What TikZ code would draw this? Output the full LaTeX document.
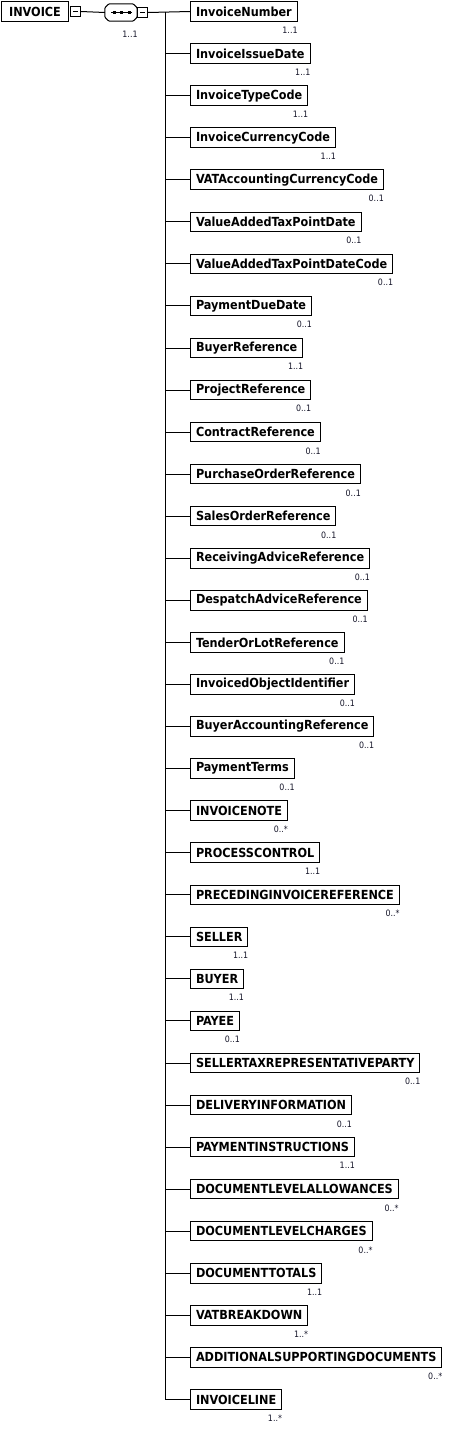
\documentclass[tikz,border=0pt]{standalone}
\usepackage{fontspec}
\setmainfont{DejaVu Sans Condensed}[BoldFont={DejaVu Sans Condensed Bold}]
\usepackage{tikz}
\usetikzlibrary{positioning,calc}
\definecolor{LineBlack}{RGB}{0,0,0}
\definecolor{CardInk}{RGB}{20,20,40}
\tikzset{
  elem/.style={draw=LineBlack,line width=1pt,fill=white,anchor=west,inner xsep=5.5pt,inner ysep=0pt,minimum height=19.5pt,font=\fontsize{12.5}{14}\selectfont\bfseries},
  card/.style={anchor=north east,inner sep=0pt,yshift=-5pt,text=CardInk,font=\fontsize{8.8}{9}\selectfont},
  minus/.style={draw=LineBlack,line width=1pt,fill=white,minimum size=10pt,inner sep=0pt},
  conn/.style={draw=LineBlack,line width=1pt}
}

\begin{document}
\begin{tikzpicture}[x=1pt,y=-1pt]
    \useasboundingbox (0,0) rectangle (449,1432);
    \node[elem,minimum width=67pt] (invoice) at (1,11.5) {INVOICE};
    \node[minus,right=1pt of invoice] (invoicem) {};
    \draw[conn] ($(invoicem.center)+(-2.5,0)$) -- ($(invoicem.center)+(2.5,0)$);
    \node[minimum width=32pt,minimum height=17pt,inner sep=0pt] (seq) at (121,12.5) {};
    \draw[conn,rounded corners=1pt] ($(seq.north west)+(4,0)$) -- ($(seq.north east)+(-4,0)$) -- ($(seq.north east)+(0,4)$)
      -- ($(seq.south east)+(0,-4)$) -- ($(seq.south east)+(-4,0)$) -- ($(seq.south west)+(4,0)$)
      -- ($(seq.south west)+(0,-4)$) -- ($(seq.north west)+(0,4)$) -- cycle;
    \draw[conn] (111,12.5) -- (132,12.5);
    \fill[LineBlack] (112.5,11) rectangle (115.5,14);
    \fill[LineBlack] (120,11) rectangle (123,14);
    \fill[LineBlack] (127.5,11) rectangle (130.5,14);
    \node[minus] (seqm) at (142.5,12.5) {};
    \draw[conn] ($(seqm.center)+(-2.5,0)$) -- ($(seqm.center)+(2.5,0)$);
    \node[card,anchor=north] at (130,26) {1..1};
    \draw[conn] (invoicem.east) -- (seq.west);
    \coordinate (trunk) at (165,0);

    \node[elem] (invnumber) at (190,11.5) {InvoiceNumber};
    \node[card] at (invnumber.south east) {1..1};
    \node[elem] (issuedate) at (190,53.6) {InvoiceIssueDate};
    \node[card] at (issuedate.south east) {1..1};
    \node[elem] (typecode) at (190,95.6) {InvoiceTypeCode};
    \node[card] at (typecode.south east) {1..1};
    \node[elem] (currcode) at (190,137.7) {InvoiceCurrencyCode};
    \node[card] at (currcode.south east) {1..1};
    \node[elem] (vatcurr) at (190,179.7) {VATAccountingCurrencyCode};
    \node[card] at (vatcurr.south east) {0..1};
    \node[elem] (taxdate) at (190,221.8) {ValueAddedTaxPointDate};
    \node[card] at (taxdate.south east) {0..1};
    \node[elem] (taxdatecode) at (190,263.9) {ValueAddedTaxPointDateCode};
    \node[card] at (taxdatecode.south east) {0..1};
    \node[elem] (duedate) at (190,305.9) {PaymentDueDate};
    \node[card] at (duedate.south east) {0..1};
    \node[elem] (buyerref) at (190,348.0) {BuyerReference};
    \node[card] at (buyerref.south east) {1..1};
    \node[elem] (projref) at (190,390.0) {ProjectReference};
    \node[card] at (projref.south east) {0..1};
    \node[elem] (contref) at (190,432.1) {ContractReference};
    \node[card] at (contref.south east) {0..1};
    \node[elem] (poref) at (190,474.2) {PurchaseOrderReference};
    \node[card] at (poref.south east) {0..1};
    \node[elem] (soref) at (190,516.2) {SalesOrderReference};
    \node[card] at (soref.south east) {0..1};
    \node[elem] (recvref) at (190,558.3) {ReceivingAdviceReference};
    \node[card] at (recvref.south east) {0..1};
    \node[elem] (despref) at (190,600.3) {DespatchAdviceReference};
    \node[card] at (despref.south east) {0..1};
    \node[elem] (tenderref) at (190,642.4) {TenderOrLotReference};
    \node[card] at (tenderref.south east) {0..1};
    \node[elem] (objid) at (190,684.5) {InvoicedObjectIdentifier};
    \node[card] at (objid.south east) {0..1};
    \node[elem] (acctref) at (190,726.5) {BuyerAccountingReference};
    \node[card] at (acctref.south east) {0..1};
    \node[elem] (payterms) at (190,768.6) {PaymentTerms};
    \node[card] at (payterms.south east) {0..1};
    \node[elem] (invnote) at (190,810.6) {INVOICENOTE};
    \node[card] at (invnote.south east) {0..*};
    \node[elem] (proccontrol) at (190,852.7) {PROCESSCONTROL};
    \node[card] at (proccontrol.south east) {1..1};
    \node[elem] (precref) at (190,894.8) {PRECEDINGINVOICEREFERENCE};
    \node[card] at (precref.south east) {0..*};
    \node[elem] (seller) at (190,936.8) {SELLER};
    \node[card] at (seller.south east) {1..1};
    \node[elem] (buyer) at (190,978.9) {BUYER};
    \node[card] at (buyer.south east) {1..1};
    \node[elem] (payee) at (190,1020.9) {PAYEE};
    \node[card] at (payee.south east) {0..1};
    \node[elem] (taxrep) at (190,1063.0) {SELLERTAXREPRESENTATIVEPARTY};
    \node[card] at (taxrep.south east) {0..1};
    \node[elem] (delivery) at (190,1105.1) {DELIVERYINFORMATION};
    \node[card] at (delivery.south east) {0..1};
    \node[elem] (payinstr) at (190,1147.1) {PAYMENTINSTRUCTIONS};
    \node[card] at (payinstr.south east) {1..1};
    \node[elem] (allowances) at (190,1189.2) {DOCUMENTLEVELALLOWANCES};
    \node[card] at (allowances.south east) {0..*};
    \node[elem] (charges) at (190,1231.2) {DOCUMENTLEVELCHARGES};
    \node[card] at (charges.south east) {0..*};
    \node[elem] (totals) at (190,1273.3) {DOCUMENTTOTALS};
    \node[card] at (totals.south east) {1..1};
    \node[elem] (vatbreak) at (190,1315.4) {VATBREAKDOWN};
    \node[card] at (vatbreak.south east) {1..*};
    \node[elem] (adddocs) at (190,1357.4) {ADDITIONALSUPPORTINGDOCUMENTS};
    \node[card] at (adddocs.south east) {0..*};
    \node[elem] (invline) at (190,1399.5) {INVOICELINE};
    \node[card] at (invline.south east) {1..*};

    \draw[conn] (seqm.east) -- (invnumber.west);
    \draw[conn] (trunk |- invnumber.west) -- (trunk |- invline.west);
    \draw[conn] (trunk |- issuedate.west) -- (issuedate.west);
    \draw[conn] (trunk |- typecode.west) -- (typecode.west);
    \draw[conn] (trunk |- currcode.west) -- (currcode.west);
    \draw[conn] (trunk |- vatcurr.west) -- (vatcurr.west);
    \draw[conn] (trunk |- taxdate.west) -- (taxdate.west);
    \draw[conn] (trunk |- taxdatecode.west) -- (taxdatecode.west);
    \draw[conn] (trunk |- duedate.west) -- (duedate.west);
    \draw[conn] (trunk |- buyerref.west) -- (buyerref.west);
    \draw[conn] (trunk |- projref.west) -- (projref.west);
    \draw[conn] (trunk |- contref.west) -- (contref.west);
    \draw[conn] (trunk |- poref.west) -- (poref.west);
    \draw[conn] (trunk |- soref.west) -- (soref.west);
    \draw[conn] (trunk |- recvref.west) -- (recvref.west);
    \draw[conn] (trunk |- despref.west) -- (despref.west);
    \draw[conn] (trunk |- tenderref.west) -- (tenderref.west);
    \draw[conn] (trunk |- objid.west) -- (objid.west);
    \draw[conn] (trunk |- acctref.west) -- (acctref.west);
    \draw[conn] (trunk |- payterms.west) -- (payterms.west);
    \draw[conn] (trunk |- invnote.west) -- (invnote.west);
    \draw[conn] (trunk |- proccontrol.west) -- (proccontrol.west);
    \draw[conn] (trunk |- precref.west) -- (precref.west);
    \draw[conn] (trunk |- seller.west) -- (seller.west);
    \draw[conn] (trunk |- buyer.west) -- (buyer.west);
    \draw[conn] (trunk |- payee.west) -- (payee.west);
    \draw[conn] (trunk |- taxrep.west) -- (taxrep.west);
    \draw[conn] (trunk |- delivery.west) -- (delivery.west);
    \draw[conn] (trunk |- payinstr.west) -- (payinstr.west);
    \draw[conn] (trunk |- allowances.west) -- (allowances.west);
    \draw[conn] (trunk |- charges.west) -- (charges.west);
    \draw[conn] (trunk |- totals.west) -- (totals.west);
    \draw[conn] (trunk |- vatbreak.west) -- (vatbreak.west);
    \draw[conn] (trunk |- adddocs.west) -- (adddocs.west);
    \draw[conn] (trunk |- invline.west) -- (invline.west);
\end{tikzpicture}
\end{document}
